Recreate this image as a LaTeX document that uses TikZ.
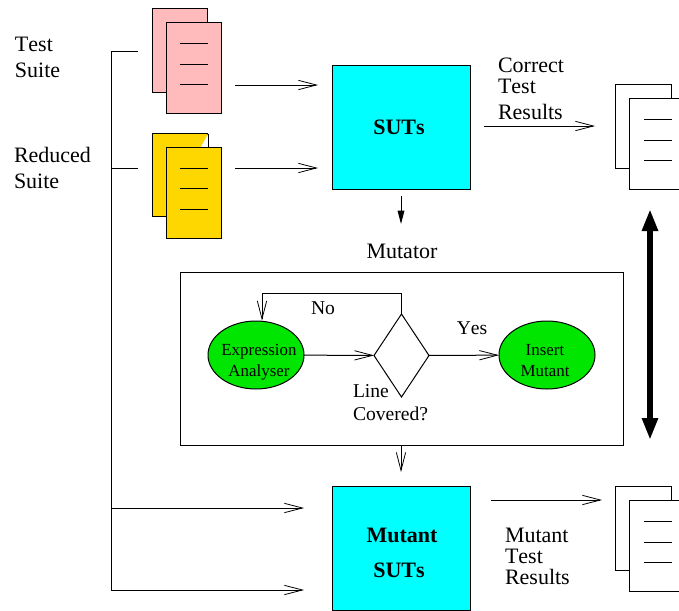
\documentclass[tikz,border=0pt]{standalone}
\usepackage{fontspec}
\setmainfont[Kerning=Off]{Liberation Serif}
\usetikzlibrary{arrows.meta,shapes.geometric,calc}
\definecolor{pinkdoc}{RGB}{255,187,187}
\definecolor{golddoc}{RGB}{255,215,0}
\definecolor{greenblob}{RGB}{0,230,0}
\definecolor{cyanbox}{RGB}{0,255,255}
\tikzset{
  x=0.75pt,y=-0.75pt,
  every node/.style={inner sep=0pt,outer sep=0pt},
  ink/.style={line width=0.75pt,draw=black},
  barb/.style={ink,-{Straight Barb[length=13.5pt,width=7pt,line width=0.6pt]}},
  solidtip/.style={ink,-{Triangle[length=10pt,width=5pt]}},
  txt/.style={font=\fontsize{16.5}{19.5}\selectfont,align=left,anchor=west},
  tighttxt/.style={font=\fontsize{16.5}{15.75}\selectfont,align=left,anchor=west},
  midtxt/.style={font=\fontsize{14.7}{17.25}\selectfont,align=left},
  small/.style={font=\fontsize{12.7}{15.75}\selectfont,align=center,text=black},
  boldtxt/.style={font=\fontsize{16.5}{26.25}\selectfont\bfseries,align=center},
  sheet/.style={ink,rectangle,minimum width=41.5pt,minimum height=62.5pt},
  frontsheet/.style={ink,rectangle,minimum width=41.5pt,minimum height=68pt},
  suts/.style={ink,rectangle,fill=cyanbox,minimum width=103.5pt,minimum height=93pt},
  blob/.style={ink,ellipse,fill=greenblob,minimum width=72pt,minimum height=51pt},
}
% name, back-sheet centre x, y, fill
\newcommand{\docstack}[4]{%
  \node[sheet,fill=#4] (#1back) at (#2,#3) {};
  \ifx#1y
    \fill[white] (#2+21,#3-28) -- (#2+28,#3-41) -- (#2+28,#3-28) -- cycle;
    \draw[ink] (#2+28,#3-41.5) -- (#2+28,#3-28);
  \fi
  \node[frontsheet,fill=#4,anchor=north west] (#1front) at ($(#1back.north west)+(14,14)$) {};
  \draw[ink] ($(#1front.north west)+(14,21)$) -- +(28,0);
  \draw[ink] ($(#1front.north west)+(14,41.5)$) -- +(28,0);
  \draw[ink] ($(#1front.north west)+(14,62)$) -- +(28,0);
}
\begin{document}
\begin{tikzpicture}
\useasboundingbox (0,0) rectangle (679,611);
\clip (0,0) rectangle (679,611);
% documents
\docstack{p}{180}{50.5}{pinkdoc}
\docstack{y}{180}{175}{golddoc}
\docstack{c}{643.5}{126.5}{white}
\docstack{m}{643.5}{528.5}{white}
% labels
\node[txt] (tsuite) at (15,57) {Test\\Suite};
\node[txt] (rsuite) at (14,168) {Reduced\\Suite};
\node[tighttxt] (ctr) at (498,88.5) {Correct\\Test\\[3.75pt]Results};
\node[tighttxt] (mtr) at (505,556) {Mutant\\Test\\Results};
\node[txt,anchor=center] (mutator) at (402,251) {Mutator};
% boxes
\node[suts] (s1) at (401,127) {};
\node[boldtxt] (s1t) at (399,127) {SUTs};
\node[suts] (s2) at (401,548.5) {};
\node[boldtxt] (s2t) at (402,552.5) {Mutant\\SUTs\hspace*{4.5pt}};
\node[ink,rectangle,minimum width=332.25pt,minimum height=129.75pt] (mbox) at (401.5,358.5) {};
\node[blob] (ea) at (256,355) {};
\node[small] (eat) at (259,362.5) {Expression\\Analyser};
\node[ink,diamond,minimum width=41.25pt,minimum height=62.25pt,aspect=0.66] (dia) at (401.5,355.5) {};
\node[blob] (im) at (547,355) {};
\node[small] (imt) at (545,360.5) {Insert\\Mutant};
\node[midtxt,anchor=center] (no) at (323,308) {No};
\node[midtxt,anchor=center] (yes) at (472,328) {Yes};
\node[midtxt,anchor=west] (lc) at (353,403) {Line\\Covered?};
% free ends
\coordinate (busT) at (111,51);
\coordinate (busB) at (111,590);
\coordinate (tap1) at (138,51);
\coordinate (j2) at (111,168.5);
\coordinate (tap2) at (138,168.5);
\coordinate (j3) at (111,508);
\coordinate (e3) at (304,508);
\coordinate (e4) at (304,590);
\coordinate (a1s) at (235,85);
\coordinate (a1e) at (318,85);
\coordinate (a2s) at (235,168);
\coordinate (a2e) at (318,168);
\coordinate (a3s) at (401,196);
\coordinate (a3e) at (401,224);
\coordinate (a4s) at (484,126);
\coordinate (a4e) at (595,126);
\coordinate (a5s) at (401,445);
\coordinate (a5e) at (401,472);
\coordinate (a6s) at (491,500);
\coordinate (a6e) at (602,500);
\coordinate (d1) at (650,209);
\coordinate (d2) at (650,440);
% connectors
\draw[ink] (tap1) -- (busT) -- (busB);
\draw[ink] (j2) -- (tap2);
\draw[barb] (j3) -- (e3);
\draw[barb] (busB) -- (e4);
\draw[barb] (a1s) -- (a1e);
\draw[barb] (a2s) -- (a2e);
\draw[solidtip] (a3s) -- (a3e);
\draw[barb] (a4s) -- (a4e);
\draw[barb] (a5s) -- (a5e);
\draw[barb] (a6s) -- (a6e);
\draw[barb] (ea) -- (dia);
\draw[barb] (dia) -- (im);
\draw[barb] (dia.north) -- (401.5,293) -- (262,293) -- (262,320.5);
\draw[line width=5pt,{Triangle[length=16.5pt,width=11.25pt]}-{Triangle[length=16.5pt,width=11.25pt]}] (d1) -- (d2);
\end{tikzpicture}
\end{document}
